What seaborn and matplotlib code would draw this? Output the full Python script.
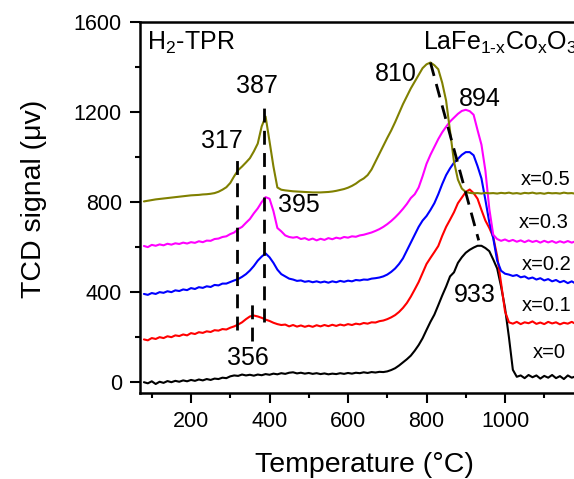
import numpy as np
import pandas as pd
import matplotlib
matplotlib.use("Agg")
import matplotlib.pyplot as plt
import seaborn as sns

# H2-TPR profiles of LaFe(1-x)Co(x)O3, sampled every 10 degC
temperature = np.arange(80, 1201, 10)

tcd_x0 = [
    0, -5, 4, -8, 2, -3, 5, 0, 6, 2,
    8, 4, 10, 6, 12, 8, 14, 10, 16, 14,
    20, 18, 26, 30, 28, 34, 30, 33, 29, 34,
    31, 36, 33, 38, 35, 40, 37, 42, 44, 39,
    42, 38, 41, 37, 40, 36, 39, 35, 38, 36,
    40, 37, 41, 38, 42, 40, 44, 41, 45, 43,
    46, 45, 48, 54, 62, 74, 88, 102, 118, 140,
    165, 195, 232, 268, 300, 342, 385, 425, 470, 488,
    530, 555, 575, 588, 598, 606, 606, 596, 582, 545,
    505, 425, 330, 200, 55, 24, 30, 18, 32, 22,
    30, 16, 28, 20, 32, 18, 27, 14, 30, 20,
    26, 12, 24,
]

tcd_x01 = [
    190, 186, 196, 192, 200, 196, 204, 200, 208, 205,
    212, 208, 218, 214, 222, 219, 226, 223, 231, 229,
    236, 234, 242, 248, 256, 266, 280, 292, 296, 292,
    286, 278, 272, 264, 258, 254, 256, 248, 254, 247,
    252, 246, 251, 246, 253, 248, 254, 249, 255, 250,
    256, 252, 258, 254, 260, 257, 263, 260, 266, 265,
    271, 274, 280, 288, 298, 312, 330, 352, 380, 412,
    445, 485, 525, 552, 578, 605, 650, 690, 722, 755,
    795, 820, 845, 856, 840, 815, 765, 718, 685, 645,
    560, 440, 315, 266, 260, 268, 258, 266, 262, 270,
    259, 265, 258, 268, 261, 266, 257, 264, 260, 268,
    259, 265, 262,
]

tcd_x02 = [
    392, 388, 396, 392, 400, 397, 404, 400, 408, 405,
    412, 409, 418, 414, 422, 419, 426, 423, 432, 430,
    438, 438, 445, 452, 458, 468, 480, 496, 516, 540,
    558, 572, 555, 530, 500, 480, 470, 460, 456, 450,
    452, 446, 449, 444, 448, 443, 447, 442, 448, 444,
    450, 446, 451, 448, 454, 452, 456, 455, 460, 462,
    465, 470, 478, 490, 505, 525, 550, 585, 620, 655,
    690, 718, 738, 765, 795, 835, 880, 920, 950, 975,
    992, 1010, 1022, 1022, 1008, 960, 905, 810, 710, 640,
    540, 495, 482, 478, 472, 476, 466, 470, 460, 465,
    456, 462, 452, 458, 448, 454, 444, 450, 440, 448,
    438, 446, 440,
]

tcd_x03 = [
    605, 600, 610, 606, 612, 608, 615, 611, 617, 614,
    620, 616, 622, 619, 626, 622, 629, 628, 636, 638,
    645, 648, 658, 665, 680, 690, 708, 725, 750, 772,
    800, 822, 815, 760, 685, 670, 652, 645, 642, 645,
    636, 640, 632, 638, 630, 637, 632, 640, 635, 642,
    638, 645, 642, 648, 646, 652, 655, 660, 665, 672,
    680, 690, 702, 716, 732, 750, 770, 792, 818, 835,
    865, 915, 970, 1010, 1045, 1080, 1110, 1135, 1158, 1175,
    1192, 1205, 1210, 1204, 1188, 1120, 1055, 940, 770, 655,
    636, 628, 634, 626, 632, 624, 630, 622, 630, 623,
    628, 620, 628, 621, 627, 619, 626, 620, 627, 620,
    626, 619, 624,
]

tcd_x05 = [
    803, 806, 809, 812, 814, 816, 818, 820, 822, 824,
    826, 828, 830, 831, 832, 834, 835, 837, 840, 846,
    855, 866, 885, 915, 942, 958, 976, 995, 1025, 1060,
    1136, 1180, 1070, 958, 865, 855, 852, 850, 848, 847,
    846, 845, 844, 843, 843, 843, 844, 845, 847, 850,
    854, 858, 864, 872, 882, 895, 905, 920, 945, 980,
    1015, 1050, 1085, 1118, 1155, 1195, 1235, 1270, 1305, 1335,
    1365, 1395, 1412, 1420, 1408, 1390, 1330, 1250, 1115, 980,
    900, 860, 845, 841, 839, 840, 838, 841, 839, 840,
    838, 841, 839, 842, 838, 840, 837, 841, 839, 842,
    838, 840, 837, 841, 839, 840, 838, 842, 839, 840,
    837, 841, 839,
]

samples = ["x=0", "x=0.1", "x=0.2", "x=0.3", "x=0.5"]
colors = ["#000000", "#FF0000", "#0000FF", "#FF00FF", "#808000"]

# peak guide lines: (temperature, lower signal, upper signal)
guide_temps = [317, 387, 356]
guide_low = [232, 269, 185]
guide_high = [996, 1232, 354]
# shift of the high-temperature peak from x=0.5 (810) to x=0 (933)
shift_temps = [810, 933]
shift_signal = [1420, 630]

# peak labels
peak_text = ["317", "387", "395", "356", "810", "894", "933"]
peak_pos = [(278, 1040), (367, 1284), (421, 758), (345, 77),
            (722, 1336), (936, 1225), (923, 358)]
peak_ha = ["center", "center", "left", "center", "center", "center", "center"]
sample_label_pos = [(1070, 107), (1042, 318), (1042, 499), (1036, 684), (1039, 877)]

frames = []
for name, values in zip(samples, [tcd_x0, tcd_x01, tcd_x02, tcd_x03, tcd_x05]):
    frames.append(pd.DataFrame({"Temperature": temperature, "TCD": values, "sample": name}))
df = pd.concat(frames, ignore_index=True)

sns.set_theme(style="ticks")
plt.rcParams["font.family"] = ["Liberation Sans", "DejaVu Sans"]
plt.rcParams["mathtext.fontset"] = "custom"
plt.rcParams["mathtext.rm"] = "Liberation Sans"
plt.rcParams["mathtext.it"] = "Liberation Sans"
plt.rcParams["mathtext.bf"] = "Liberation Sans:bold"
for key in ["text.color", "axes.labelcolor", "xtick.color", "ytick.color", "axes.edgecolor"]:
    plt.rcParams[key] = "black"

fig = plt.figure(figsize=(5.74, 4.79), dpi=100)
ax = fig.add_axes([140 / 574, 1 - 393 / 479, 443.5 / 574, 371 / 479])

sns.lineplot(data=df, x="Temperature", y="TCD", hue="sample", hue_order=samples,
             palette=dict(zip(samples, colors)), estimator=None, sort=False,
             legend=False, linewidth=1.5, ax=ax)

dash = (0, (5, 3))
for t, lo, hi in zip(guide_temps, guide_low, guide_high):
    ax.plot([t, t], [lo, hi], color="black", lw=2.0, linestyle=dash, zorder=5)
ax.plot(shift_temps, shift_signal, color="black", lw=2.0, linestyle=dash, zorder=5)

for txt, (tx, ty), ha in zip(peak_text, peak_pos, peak_ha):
    ax.text(tx, ty, txt, fontsize=18, ha=ha, va="baseline", color="black")

for name, (tx, ty) in zip(samples, sample_label_pos):
    ax.text(tx, ty, name, fontsize=14.5, ha="left", va="baseline", color="black")

ax.text(88, 1477, "H$_2$-TPR", fontsize=18, ha="left", va="baseline")
ax.text(792, 1477, r"LaFe$_{1\text{-}x}$Co$_x$O$_3$", fontsize=18, ha="left", va="baseline")

ax.set_xlim(70, 1200)
ax.set_ylim(-48, 1600)
ax.set_xticks([200, 400, 600, 800, 1000])
ax.set_xticks([100, 300, 500, 700, 900, 1100], minor=True)
ax.set_yticks([0, 400, 800, 1200, 1600])
ax.set_yticks([200, 600, 1000, 1400], minor=True)

for side in ["left", "bottom", "top", "right"]:
    ax.spines[side].set_visible(True)
    ax.spines[side].set_linewidth(1.8)
    ax.spines[side].set_color("black")

ax.tick_params(which="major", direction="out", length=7, width=1.5, labelsize=15.5,
               colors="black", pad=6, top=False, right=False)
ax.tick_params(which="minor", direction="out", length=3.6, width=1.5,
               top=False, right=False)

ax.set_xlabel("Temperature (°C)", fontsize=20.5)
ax.set_ylabel("TCD signal (μv)", fontsize=20.5)
ax.xaxis.set_label_coords(0.505, -0.158)
ax.yaxis.set_label_coords(-0.21, 0.523)
ax.grid(False)

fig.savefig("out.png", dpi=100)
